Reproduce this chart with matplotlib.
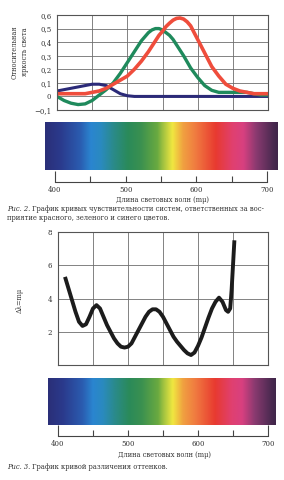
import matplotlib
matplotlib.use("Agg")
import matplotlib.pyplot as plt
import numpy as np
from matplotlib.colors import LinearSegmentedColormap

# ---------------- data ----------------
wl = [400, 410, 420, 430, 440, 450, 460, 470, 480, 490, 500, 510, 520, 530, 535, 540, 545, 550,
      555, 560, 565, 570, 575, 580, 585, 590, 600, 610, 620, 630, 640, 650, 660, 670, 680, 690, 700]
blue_resp = [0.04, 0.05, 0.06, 0.07, 0.08, 0.09, 0.09, 0.08, 0.05, 0.02, 0.005, 0.0, 0.0, 0.0,
             0.0, 0.0, 0.0, 0.0, 0.0, 0.0, 0.0, 0.0, 0.0, 0.0, 0.0, 0.0, 0.0, 0.0, 0.0, 0.0,
             0.0, 0.0, 0.0, 0.0, 0.0, 0.0, 0.0]
green_resp = [0.0, -0.03, -0.05, -0.06, -0.055, -0.03, 0.01, 0.05, 0.10, 0.17, 0.25, 0.33, 0.41,
              0.47, 0.49, 0.50, 0.50, 0.49, 0.47, 0.45, 0.42, 0.38, 0.34, 0.30, 0.255, 0.21,
              0.14, 0.08, 0.045, 0.03, 0.03, 0.03, 0.03, 0.03, 0.02, 0.01, 0.01]
red_resp = [0.02, 0.02, 0.02, 0.02, 0.02, 0.03, 0.04, 0.06, 0.09, 0.12, 0.15, 0.20, 0.26, 0.33,
            0.37, 0.41, 0.45, 0.48, 0.515, 0.54, 0.562, 0.575, 0.578, 0.57, 0.55, 0.52,
            0.42, 0.32, 0.22, 0.15, 0.09, 0.06, 0.04, 0.03, 0.02, 0.02, 0.02]

disc_wl = [410, 415, 420, 425, 430, 435, 440, 445, 450, 455, 460, 465, 470, 475, 480, 485,
           490, 495, 500, 505, 510, 515, 520, 525, 530, 535, 540, 545, 550, 555, 560, 565,
           570, 575, 580, 585, 590, 595, 600, 605, 610, 615, 620, 625, 630, 635, 640, 643,
           646, 648, 650, 652]
disc_val = [5.3, 4.6, 3.9, 3.2, 2.6, 2.35, 2.45, 2.9, 3.4, 3.6, 3.4, 2.9, 2.4, 2.0, 1.6, 1.3,
            1.1, 1.05, 1.1, 1.3, 1.7, 2.1, 2.5, 2.9, 3.2, 3.35, 3.35, 3.2, 2.9, 2.5, 2.1, 1.7,
            1.4, 1.15, 0.9, 0.7, 0.6, 0.75, 1.15, 1.65, 2.25, 2.85, 3.4, 3.8, 4.05, 3.8, 3.3,
            3.2, 3.4, 4.5, 6.0, 7.5]

spec_nm = [386, 407, 435, 450, 464, 482, 502, 520, 544, 551, 565, 580, 598, 626, 650, 665, 683, 707, 713]
spec_col = ["#2a2f78", "#2b3a8c", "#2a5cb0", "#2a85d0", "#2a8ac0", "#2a8a8a", "#2a8a5a",
            "#3a9050", "#6aaa40", "#9cc040", "#f0e840", "#f0a040", "#f07a40", "#e83a30",
            "#e04070", "#d84080", "#8a3a70", "#4a2a50", "#40264a"]

top_yticks = [-0.1, 0.0, 0.1, 0.2, 0.3, 0.4, 0.5, 0.6]
top_yticklabels = ["\u22120,1", "0", "0,1", "0,2", "0,3", "0,4", "0,5", "0,6"]
bot_yticks = [2, 4, 6, 8]
x_grid = [400, 450, 500, 550, 600, 650, 700]

# ---------------- figure ----------------
W, H = 284, 480
fig = plt.figure(figsize=(W / 100, H / 100), dpi=100)
fig.patch.set_facecolor("white")
FONT = "DejaVu Serif"
plt.rcParams["font.family"] = [FONT, "DejaVu Sans"]


def rect(x0, y0, x1, y1):
    return [x0 / W, 1 - y1 / H, (x1 - x0) / W, (y1 - y0) / H]


gridc = "#6e6e6e"
spinec = "#555555"


def style_axes(ax):
    ax.set_xticks(x_grid)
    ax.tick_params(axis="x", length=0, labelbottom=False)
    ax.tick_params(axis="y", length=0, labelsize=5, pad=4, colors="#333333")
    ax.grid(True, color=gridc, linewidth=0.6)
    for s in ax.spines.values():
        s.set_color(spinec)
        s.set_linewidth(0.8)


# --- top chart
ax1 = fig.add_axes(rect(57, 15, 268, 110))
ax1.set_xlim(400, 700)
ax1.set_ylim(-0.1, 0.6)
style_axes(ax1)
ax1.set_yticks(top_yticks)
ax1.set_yticklabels(top_yticklabels)
ax1.plot(wl, blue_resp, color="#2b2a78", lw=2.2, solid_capstyle="butt", solid_joinstyle="round")
ax1.plot(wl, green_resp, color="#1f8a5c", lw=2.4, solid_capstyle="butt", solid_joinstyle="round")
ax1.plot(wl, red_resp, color="#ef4d3c", lw=2.6, solid_capstyle="butt", solid_joinstyle="round")
fig.text(20 / W, 1 - 52 / H, "Относительная\nяркость света", rotation=90, ha="center",
         va="center", fontsize=4.8, color="#333333", linespacing=1.3)

# spectrum colormap
lo, hi = spec_nm[0], spec_nm[-1]
cmap = LinearSegmentedColormap.from_list(
    "spec", [((n - lo) / (hi - lo), c) for n, c in zip(spec_nm, spec_col)])
grad = np.linspace(0, 1, 512).reshape(1, -1)


def spectrum(x0, y0, x1, y1):
    a = fig.add_axes(rect(x0, y0, x1, y1))
    a.imshow(grad, aspect="auto", cmap=cmap, extent=[lo, hi, 0, 1])
    a.axis("off")


def tick_axis(x0, x1, yline):
    a = fig.add_axes(rect(x0, yline - 12, x1, yline))
    a.set_xlim(400, 700)
    a.set_ylim(0, 1)
    for k in ("top", "left", "right"):
        a.spines[k].set_visible(False)
    a.spines["bottom"].set_color("#444444")
    a.spines["bottom"].set_linewidth(0.8)
    a.patch.set_alpha(0)
    a.set_yticks([])
    a.set_xticks([400, 700])
    a.set_xticklabels(["400", "700"])
    a.set_xticks([450, 500, 550, 600, 650], minor=True)
    a.set_xticklabels(["", "500", "", "600", ""], minor=True)
    a.tick_params(axis="x", which="major", direction="in", length=8, width=0.8,
                  labelsize=5, pad=3, colors="#444444", labelcolor="#333333")
    a.tick_params(axis="x", which="minor", direction="in", length=4, width=0.8,
                  labelsize=5, pad=3, colors="#444444", labelcolor="#333333")


spectrum(45, 122, 278, 170)
tick_axis(55, 267, 182)
fig.text(162 / W, 1 - 200 / H, "Длина световых волн (mμ)", ha="center", va="center",
         fontsize=4.8, color="#333333")

# --- bottom chart
ax2 = fig.add_axes(rect(58, 232, 268, 365))
ax2.set_xlim(400, 700)
ax2.set_ylim(0, 8)
style_axes(ax2)
ax2.set_yticks(bot_yticks)
ax2.set_yticklabels([str(v) for v in bot_yticks])
ax2.plot(disc_wl, disc_val, color="#1c1c1c", lw=2.8, solid_capstyle="butt", solid_joinstyle="round")
fig.text(20 / W, 1 - 300 / H, "Δλ=mμ", rotation=90, ha="center", va="center",
         fontsize=4.8, color="#333333")

spectrum(48, 378, 276, 425)
tick_axis(58, 268, 436)
fig.text(164 / W, 1 - 455 / H, "Длина световых волн (mμ)", ha="center", va="center",
         fontsize=4.8, color="#333333")

# --- captions
renderer = fig.canvas.get_renderer()
CAP = 4.85


def caption(y, italic, rest, more=None):
    t = fig.text(7 / W, 1 - y / H, italic, ha="left", va="center", fontsize=CAP,
                 style="italic", color="#333333")
    bb = t.get_window_extent(renderer)
    fig.text((bb.x1 + 1.5) / W, 1 - y / H, rest, ha="left", va="center", fontsize=CAP,
             color="#333333")
    if more:
        fig.text(7 / W, 1 - (y + 9) / H, more, ha="left", va="center", fontsize=CAP,
                 color="#333333")


caption(209, "Рис. 2.", "График кривых чувствительности систем, ответственных за вос-",
        "приятие красного, зеленого и синего цветов.")
caption(467, "Рис. 3.", "График кривой различения оттенков.")

fig.savefig("out.png", dpi=100, facecolor=fig.get_facecolor())
